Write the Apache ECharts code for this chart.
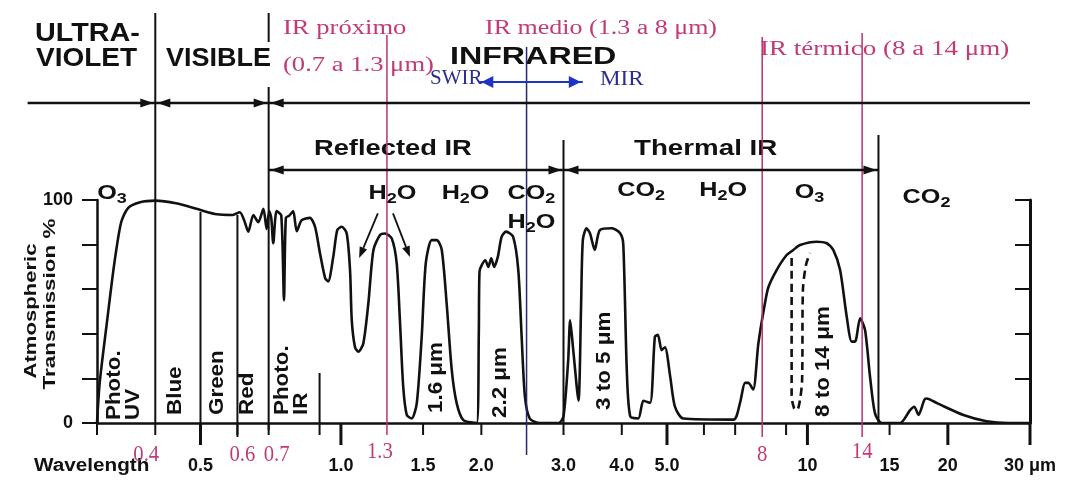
<!DOCTYPE html>
<html>
<head>
    <meta charset="utf-8" />
    <title>Atmospheric transmission</title>
    <script src="https://cdn.jsdelivr.net/npm/echarts@6/dist/echarts.min.js"></script>
    <style>html, body { margin: 0; background: #fff; }</style>
</head>
<body>
    <div id="main" style="width: 1067px;height:483px;"></div>
    <script type="text/javascript">
        // transmission curve: [wavelength (um), transmission %]
        var transmission = [
            [0.300, 0], [0.304, 18], [0.315, 45], [0.327, 72], [0.338, 90], [0.350, 96.5], [0.371, 99],
            [0.400, 99.7], [0.443, 98.5], [0.500, 95.5], [0.542, 93.6], [0.586, 93.3],
            [0.607, 94.5], [0.620, 91], [0.633, 85.8], [0.649, 93.3], [0.665, 90], [0.682, 96],
            [0.693, 87], [0.702, 95], [0.709, 92], [0.716, 80.6], [0.728, 95], [0.745, 93],
            [0.755, 55], [0.762, 92], [0.775, 93], [0.790, 95], [0.804, 86], [0.824, 91],
            [0.858, 92], [0.880, 88], [0.902, 76], [0.925, 65], [0.939, 63.5], [0.963, 74.6],
            [0.982, 86.5], [1.004, 88], [1.029, 85], [1.046, 68.6], [1.055, 46], [1.072, 34],
            [1.090, 32], [1.117, 35.7], [1.145, 53.7], [1.174, 77.6], [1.213, 84.3], [1.243, 85],
            [1.285, 82.8], [1.317, 71.6], [1.338, 46], [1.360, 16.3], [1.384, 3.6], [1.418, 2],
            [1.454, 8.8], [1.490, 38.7], [1.520, 71.6], [1.565, 82], [1.605, 82], [1.645, 77.6],
            [1.685, 53.7], [1.728, 23.8], [1.771, 8.8], [1.830, 1.3], [1.955, 0], [1.975, 40],
            [1.982, 68], [2.04, 73], [2.07, 70], [2.10, 73.9], [2.13, 70], [2.17, 74.6],
            [2.21, 83.5], [2.26, 85.8], [2.34, 83.5], [2.40, 68.6], [2.44, 38.7], [2.48, 11.8],
            [2.54, 2], [2.67, 0], [2.93, 0], [3.00, 3], [3.07, 28], [3.10, 46], [3.15, 32],
            [3.23, 10], [3.27, 50], [3.30, 82], [3.36, 87.3], [3.42, 85], [3.50, 77.6], [3.59, 86.5],
            [3.81, 87.3], [3.97, 85], [4.03, 80], [4.10, 23.8], [4.17, 3], [4.34, 2], [4.45, 10],
            [4.60, 9], [4.71, 38.7], [4.78, 39.5], [4.87, 32.7], [4.95, 34], [5.08, 20.8],
            [5.20, 7.3], [5.42, 2], [6.94, 1.5], [7.17, 9], [7.35, 18], [7.47, 18], [7.65, 15],
            [7.85, 35.7], [8.11, 53.8], [8.25, 61], [8.59, 68.6], [9.00, 75], [9.33, 77.6],
            [9.64, 79.8], [10.47, 81.3], [11.00, 80.6], [11.36, 77.6], [11.75, 68.6], [12.14, 47.7],
            [12.44, 36.5], [12.65, 36.5], [12.97, 47], [13.29, 41.7], [13.62, 20.8], [13.96, 4.3],
            [14.43, 0], [15.8, 0], [16.6, 5.8], [16.95, 7.3], [17.3, 3.6], [17.8, 10.3], [18.0, 11],
            [19.0, 8.8], [21.6, 3.6], [24.2, 0.8], [27, 0], [30, 0]
        ];
        // dashed 8-14 um window
        var thermalWindow = [
            [9.25, 74], [9.25, 40], [9.25, 12.6], [9.36, 6.7], [9.50, 5.8], [9.64, 10.3],
            [9.74, 19.3], [9.78, 59.6], [9.93, 70.9], [10.13, 76.2]
        ];

        var tickWl = [0.3, 0.4, 0.5, 0.6, 0.7, 0.9, 1.0, 1.5, 2.0, 3.0, 4.0, 5.0, 6.0, 7.0, 9.0, 10, 15, 20, 30];
        var majorTickWl = [0.5, 1.0, 5.0, 10, 20, 30];
        var tickLabelWl = [0.5, 1.0, 1.5, 2.0, 3.0, 4.0, 5.0, 10, 15, 20, 30];
        var tickLabels = ['0.5', '1.0', '1.5', '2.0', '3.0', '4.0', '5.0', '10', '15', '20', '30 μm'];
        var pinkLabelWl = [0.4, 0.6, 0.7, 1.255, 8, 13.1];
        var pinkLabels = ['0.4', '0.6', '0.7', '1.3', '8', '14'];

        var blackRuleWl = [0.4, 0.5, 0.6, 0.7, 0.7, 0.9, 3.0, 14.2];
        var pinkRuleWl = [1.255, 8, 13.1];
        var blueRuleWl = [2.5];
        var regionArrowWl = [[0.213, 0.4], [0.4, 0.7], [0.7, 30], [0.7, 3.0], [3.0, 14.2]];
        var swirArrowWl = [[1.98, 3.3]];
        var h2oPointers = [[1.2, 94, 1.094, 74], [1.293, 94, 1.406, 74.4]];

        var bandLabelWl = [0.342, 0.441, 0.545, 0.632, 0.786, 1.6, 2.2, 3.68, 10.8];
        var bandLabels = ['Photo.\nUV', 'Blue', 'Green', 'Red', 'Photo.\nIR', '1.6 μm', '2.2 μm', '3 to 5 μm', '8 to 14 μm'];
        var gasLabelWl = [0.323, 1.29, 1.85, 2.56, 2.56, 4.4, 6.6, 10.1, 18];
        var gasLabels = ['{n|O}{s|3}', '{n|H}{s|2}{n|O}', '{n|H}{s|2}{n|O}', '{n|CO}{s|2}', '{n|H}{s|2}{n|O}',
            '{n|CO}{s|2}', '{n|H}{s|2}{n|O}', '{n|O}{s|3}', '{n|CO}{s|2}'];

        // layout (pixels)
        var SANS = '"Liberation Sans", Arial, Helvetica, sans-serif';
        var SERIF = '"Liberation Serif", "Times New Roman", serif';
        var PINK = '#c23b78';
        var PINK_LINE = '#b8336f';
        var NAVY = '#2b2e8c';
        var BLUE = '#1d34c6';
        var blackRuleSpan = [[13, 423], [212, 441], [215, 437], [13, 42], [87, 430], [373, 423], [140, 423], [135, 423]];
        var pinkRuleSpan = [[35, 435], [37, 437], [33, 437]];
        var blueRuleSpan = [[47, 455]];
        var regionArrowY = [103, 103, 103, 170, 170];
        var regionArrowHeads = ['end', 'both', 'start', 'both', 'both'];
        var pinkLabelDx = [-9, 5, 8, -7, 0, 0];
        var pinkLabelY = [455, 455, 455, 452, 455, 452];
        var bandLabelY = [420, 415, 415, 415, 415, 413, 418, 410, 417];
        var gasLabelY = [193, 193, 193, 193, 222, 190, 190, 192, 197];

        function xOf(api, wl) { return api.coord([wl, 0])[0]; }

        function arrow(x0, x1, y, heads, color, lw, hl, hw) {
            var c = [{ type: 'line', shape: { x1: x0, y1: y, x2: x1, y2: y }, style: { stroke: color, lineWidth: lw } }];
            if (heads === 'start' || heads === 'both') {
                c.push({ type: 'polygon', shape: { points: [[x0 + 2, y], [x0 + 2 + hl, y - hw], [x0 + 2 + hl, y + hw]] }, style: { fill: color } });
            }
            if (heads === 'end' || heads === 'both') {
                c.push({ type: 'polygon', shape: { points: [[x1 - 2, y], [x1 - 2 - hl, y - hw], [x1 - 2 - hl, y + hw]] }, style: { fill: color } });
            }
            return { type: 'group', children: c };
        }

        function ruleSeries(wl, spans, color, width) {
            return {
                type: 'custom', clip: false, silent: true, z: 4,
                data: wl.map(function (w, i) { return [w, i]; }),
                renderItem: function (params, api) {
                    var x = xOf(api, api.value(0));
                    var s = spans[api.value(1)];
                    return { type: 'line', shape: { x1: x, y1: s[0], x2: x, y2: s[1] }, style: { stroke: color, lineWidth: width } };
                }
            };
        }

        function txt(text, x, y, font, color, sx, rot, align) {
            return {
                type: 'text', x: x, y: y, rotation: rot || 0, scaleX: sx || 1, silent: true,
                style: { text: text, font: font, fill: color, align: align || 'left', verticalAlign: 'middle' }
            };
        }

        var myChart = echarts.init(document.getElementById('main'), null, { renderer: 'canvas' });

        myChart.setOption({
            animation: false,
            backgroundColor: '#fff',
            grid: { left: 97, right: 37, top: 200, bottom: 60, outerBoundsMode: 'none' },
            xAxis: {
                type: 'log', logBase: 10, min: 0.3, max: 30,
                axisLine: { show: true, lineStyle: { color: '#111', width: 2.5 } },
                axisTick: { show: false }, axisLabel: { show: false },
                splitLine: { show: false }, minorTick: { show: false }
            },
            yAxis: [{
                type: 'value', min: 0, max: 100, interval: 20,
                axisLine: { show: true, lineStyle: { color: '#111', width: 2.5 } },
                axisTick: { show: true, length: 15, lineStyle: { color: '#111', width: 2 } },
                axisLabel: {
                    color: '#111', fontFamily: SANS, fontWeight: 'bold', fontSize: 18, margin: 24,
                    formatter: function (v) { return (v === 0 || v === 100) ? String(v) : ''; }
                },
                splitLine: { show: false }
            }, {
                type: 'value', min: 0, max: 100, interval: 20, position: 'right',
                axisLine: { show: true, lineStyle: { color: '#111', width: 3 } },
                axisTick: { show: true, inside: true, length: 15, lineStyle: { color: '#111', width: 2 } },
                axisLabel: { show: false }, splitLine: { show: false }
            }],
            graphic: [
                txt('ULTRA-', 35, 34, 'bold 25px ' + SANS, '#111', 1.15),
                txt('VIOLET', 36, 59, 'bold 25px ' + SANS, '#111', 1.12),
                txt('VISIBLE', 166, 59, 'bold 25px ' + SANS, '#111', 1.08),
                txt('INFRARED', 450, 58, 'bold 23px ' + SANS, '#111', 1.4),
                txt('Reflected IR', 314, 149, 'bold 22px ' + SANS, '#111', 1.24),
                txt('Thermal IR', 634, 149, 'bold 22px ' + SANS, '#111', 1.26),
                txt('IR próximo', 283, 29, '20px ' + SERIF, PINK, 1.33),
                txt('(0.7 a 1.3 μm)', 283, 66, '20px ' + SERIF, PINK, 1.33),
                txt('IR medio (1.3 a 8 μm)', 485, 29, '20px ' + SERIF, PINK, 1.3),
                txt('IR térmico (8 a 14 μm)', 760, 50, '20px ' + SERIF, PINK, 1.35),
                txt('SWIR', 430, 78, '21px ' + SERIF, NAVY, 1),
                txt('MIR', 600, 79, '21px ' + SERIF, NAVY, 1.1),
                txt('Wavelength', 34, 466, 'bold 18px ' + SANS, '#111', 1.15),
                txt('Atmospheric', 31, 311, 'bold 17px ' + SANS, '#111', 1.3, Math.PI / 2, 'center'),
                txt('Transmission %', 50, 304, 'bold 17px ' + SANS, '#111', 1.32, Math.PI / 2, 'center')
            ],
            series: [{
                name: 'transmission', type: 'line', z: 3,
                data: transmission, showSymbol: false, symbol: 'none',
                smooth: 0.25,
                lineStyle: { color: '#111', width: 2.6 }
            }, {
                name: '8-14', type: 'line', z: 3,
                data: thermalWindow, showSymbol: false, symbol: 'none',
                smooth: 0.3,
                lineStyle: { color: '#111', width: 2.6, type: [8, 5] }
            },
            ruleSeries(blackRuleWl, blackRuleSpan, '#111', 2),
            ruleSeries(pinkRuleWl, pinkRuleSpan, PINK_LINE, 1.5),
            ruleSeries(blueRuleWl, blueRuleSpan, '#27276e', 1.5),
            {
                // region arrows
                type: 'custom', clip: false, silent: true, z: 4,
                data: regionArrowWl.map(function (a, i) { return [a[0], a[1], i]; }),
                renderItem: function (params, api) {
                    var i = api.value(2);
                    return arrow(xOf(api, api.value(0)), xOf(api, api.value(1)), regionArrowY[i], regionArrowHeads[i], '#111', 2.5, 13, 4.5);
                }
            }, {
                // SWIR / MIR arrow
                type: 'custom', clip: false, silent: true, z: 4,
                data: swirArrowWl.map(function (a, i) { return [a[0], a[1], i]; }),
                renderItem: function (params, api) {
                    return arrow(xOf(api, api.value(0)), xOf(api, api.value(1)), 82, 'both', BLUE, 2, 12, 6);
                }
            }, {
                // H2O pointers
                type: 'custom', clip: false, silent: true, z: 4,
                data: h2oPointers,
                renderItem: function (params, api) {
                    var p0 = api.coord([api.value(0), api.value(1)]);
                    var p1 = api.coord([api.value(2), api.value(3)]);
                    var dx = p1[0] - p0[0], dy = p1[1] - p0[1];
                    var d = Math.sqrt(dx * dx + dy * dy);
                    var ux = dx / d, uy = dy / d, hl = 11, hw = 4;
                    var bx = p1[0] - ux * hl, by = p1[1] - uy * hl;
                    return {
                        type: 'group', children: [
                            { type: 'line', shape: { x1: p0[0], y1: p0[1], x2: bx, y2: by }, style: { stroke: '#111', lineWidth: 1.8 } },
                            { type: 'polygon', shape: { points: [p1, [bx - uy * hw, by + ux * hw], [bx + uy * hw, by - ux * hw]] }, style: { fill: '#111' } }
                        ]
                    };
                }
            }, {
                // x ticks
                type: 'custom', clip: false, silent: true, z: 4,
                data: tickWl.map(function (w, i) { return [w, i]; }),
                renderItem: function (params, api) {
                    var w = api.value(0);
                    var p = api.coord([w, 0]);
                    var major = majorTickWl.indexOf(w) >= 0;
                    return {
                        type: 'line', shape: { x1: p[0], y1: p[1], x2: p[0], y2: p[1] + (major ? 22 : 12) },
                        style: { stroke: '#111', lineWidth: major ? 3 : 2 }
                    };
                }
            }, {
                // x tick labels
                type: 'custom', clip: false, silent: true, z: 4,
                data: tickLabelWl.map(function (w, i) { return [w, i]; }),
                renderItem: function (params, api) {
                    var p = api.coord([api.value(0), 0]);
                    return {
                        type: 'text', x: p[0], y: p[1] + 43,
                        style: { text: tickLabels[api.value(1)], font: 'bold 18px ' + SANS, fill: '#111', align: 'center', verticalAlign: 'middle' }
                    };
                }
            }, {
                // pink wavelength labels
                type: 'custom', clip: false, silent: true, z: 4,
                data: pinkLabelWl.map(function (w, i) { return [w, i]; }),
                renderItem: function (params, api) {
                    var i = api.value(1);
                    return {
                        type: 'text', x: xOf(api, api.value(0)) + pinkLabelDx[i], y: pinkLabelY[i], scaleX: 0.9,
                        style: { text: pinkLabels[i], font: '23px ' + SERIF, fill: PINK, align: 'center', verticalAlign: 'middle' }
                    };
                }
            }, {
                // band labels, rotated
                type: 'custom', clip: false, silent: true, z: 4,
                data: bandLabelWl.map(function (w, i) { return [w, i]; }),
                renderItem: function (params, api) {
                    var i = api.value(1);
                    return {
                        type: 'text', x: xOf(api, api.value(0)), y: bandLabelY[i], rotation: Math.PI / 2, scaleX: 1.12,
                        style: {
                            text: bandLabels[i], font: 'bold 20px ' + SANS, fill: '#111',
                            align: 'left', verticalAlign: 'middle', lineHeight: 19
                        }
                    };
                }
            }, {
                // absorbing gases
                type: 'custom', clip: false, silent: true, z: 4,
                data: gasLabelWl.map(function (w, i) { return [w, i]; }),
                renderItem: function (params, api) {
                    var i = api.value(1);
                    return {
                        type: 'text', x: xOf(api, api.value(0)), y: gasLabelY[i], scaleX: 1.2,
                        style: {
                            text: gasLabels[i], align: 'center', verticalAlign: 'middle',
                            rich: {
                                n: { fontFamily: SANS, fontWeight: 'bold', fontSize: 21, fill: '#111' },
                                s: { fontFamily: SANS, fontWeight: 'bold', fontSize: 15, fill: '#111', padding: [12, 0, 0, 0] }
                            }
                        }
                    };
                }
            }]
        });
    </script>
</body>
</html>
